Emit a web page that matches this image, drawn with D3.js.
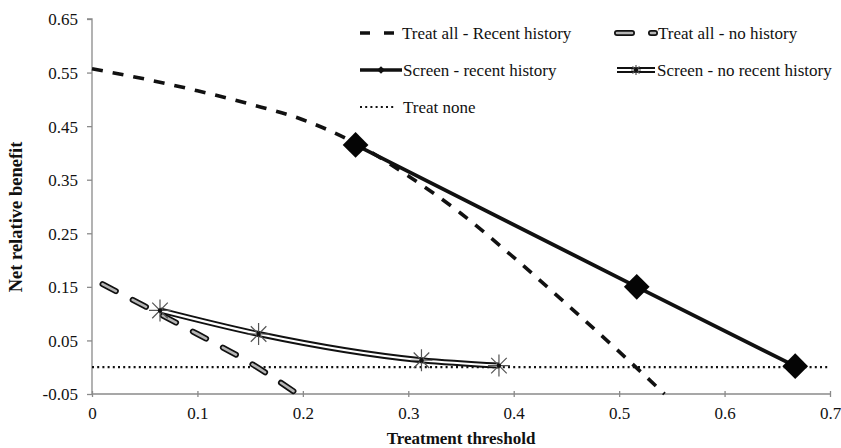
<!DOCTYPE html>
<html>
<head>
<meta charset="utf-8">
<script src="https://cdn.jsdelivr.net/npm/d3@7"></script>
<style>
  html, body { margin: 0; padding: 0; background: #fff; }
  svg { display: block; }
  text { font-family: "Liberation Serif", "Times New Roman", serif; fill: #111; }
</style>
</head>
<body>
<svg id="chart" width="841" height="448"></svg>
<script>
// ---- Data ----
const xTicks = [0, 0.1, 0.2, 0.3, 0.4, 0.5, 0.6, 0.7];
const yTicks = [-0.05, 0.05, 0.15, 0.25, 0.35, 0.45, 0.55, 0.65];

const treatAllRecentX = [0, 0.05, 0.1, 0.15, 0.2, 0.25, 0.3, 0.35, 0.4, 0.45, 0.5, 0.543];
const treatAllRecentY = [0.557, 0.538, 0.516, 0.491, 0.462, 0.418, 0.357, 0.287, 0.205, 0.118, 0.029, -0.05];

const treatAllNoHistX = [0.01, 0.05, 0.1, 0.15, 0.195];
const treatAllNoHistY = [0.155, 0.114, 0.062, 0.008, -0.05];

const screenRecentX = [0.25, 0.5167, 0.667];
const screenRecentY = [0.415, 0.15, 0.002];

const screenNoRecentX = [0.0645, 0.158, 0.3125, 0.386];
const screenNoRecentY = [0.106, 0.062, 0.013, 0.003];

const treatNoneX = [0, 0.7];
const treatNoneY = [0, 0];

const legendLabels = ["Treat all - Recent history", "Treat all - no history",
  "Screen - recent history", "Screen - no recent history", "Treat none"];

// ---- Layout ----
const svg = d3.select("#chart");
const x = d3.scaleLinear().domain([0, 0.7]).range([92, 830]);
const y = d3.scaleLinear().domain([-0.05, 0.65]).range([394, 19]);
const axisColor = "#8a8a8a";
const fmtY = d => d3.format(".2f")(d).replace("\u2212", "-");
const fmtX = d => d === 0 ? "0" : d3.format(".1f")(d);

const zip = (xs, ys) => xs.map((v, i) => [v, ys[i]]);
const line = d3.line().x(d => x(d[0])).y(d => y(d[1]));
const smooth = d3.line().x(d => x(d[0])).y(d => y(d[1])).curve(d3.curveMonotoneX);

// Axes
const yAxis = d3.axisLeft(y).tickValues(yTicks).tickSize(5).tickFormat(fmtY);
const gy = svg.append("g").attr("transform", `translate(${x(0)},0)`).call(yAxis);
gy.selectAll("path, line").attr("stroke", axisColor).attr("stroke-width", 1.3);
gy.selectAll("text").attr("font-size", 17).attr("x", -14).attr("dy", "0.35em");
gy.select(".domain").attr("d", `M-5,${y(0.65)}H0V${y(-0.05)}`);

const xAxis = d3.axisBottom(x).tickValues(xTicks).tickSize(4).tickFormat(fmtX);
const gx = svg.append("g").attr("transform", `translate(0,${y(-0.05)})`).call(xAxis);
gx.selectAll("path, line").attr("stroke", axisColor).attr("stroke-width", 1.3);
gx.selectAll("text").attr("font-size", 17).attr("y", 13).attr("dy", "0.71em");
gx.select(".domain").attr("d", `M${x(0)},0H${x(0.7)}`);
gx.selectAll(".tick line").attr("y1", -3).attr("y2", 3);
svg.selectAll("g").attr("font-family", null);
svg.selectAll(".tick text").style("font-family", '"Liberation Serif", serif').attr("fill", "#111");

// Axis titles
svg.append("text").attr("x", x(0.35)).attr("y", 444).attr("text-anchor", "middle")
  .attr("font-size", 17).attr("font-weight", "bold").text("Treatment threshold");
svg.append("text").attr("transform", `translate(22,217) rotate(-90)`)
  .attr("text-anchor", "middle").attr("font-size", 18.5).attr("font-weight", "bold")
  .text("Net relative benefit");

// ---- Series ----
// Treat none (dotted)
svg.append("path").datum(zip(treatNoneX, treatNoneY)).attr("d", line)
  .attr("fill", "none").attr("stroke", "#111").attr("stroke-width", 2.2)
  .attr("stroke-dasharray", "2,3.2");

// Treat all - Recent history (dashed)
svg.append("path").datum(zip(treatAllRecentX, treatAllRecentY)).attr("d", smooth)
  .attr("fill", "none").attr("stroke", "#111").attr("stroke-width", 3.6)
  .attr("stroke-dasharray", "11,10");

// Treat all - no history (outlined capsule dashes)
function capsuleDash(sel, d, path) {
  sel.append("path").datum(d).attr("d", path).attr("fill", "none")
    .attr("stroke", "#111").attr("stroke-width", 6).attr("stroke-linecap", "round")
    .attr("stroke-dasharray", "15,19");
  sel.append("path").datum(d).attr("d", path).attr("fill", "none")
    .attr("stroke", "#b5b5b5").attr("stroke-width", 2.6).attr("stroke-linecap", "round")
    .attr("stroke-dasharray", "15,19");
}
capsuleDash(svg.append("g"), zip(treatAllNoHistX, treatAllNoHistY), smooth);

// Screen - recent history (solid + diamonds)
svg.append("path").datum(zip(screenRecentX, screenRecentY)).attr("d", line)
  .attr("fill", "none").attr("stroke", "#111").attr("stroke-width", 3.8);
const diamond = d3.symbol().type(d3.symbolSquare).size(330);
svg.selectAll(".dia").data(zip(screenRecentX, screenRecentY)).join("path")
  .attr("class", "dia").attr("d", diamond)
  .attr("transform", d => `translate(${x(d[0])},${y(d[1])}) rotate(45)`)
  .attr("fill", "#050505");

// Screen - no recent history (double line + stars)
const snr = zip(screenNoRecentX, screenNoRecentY);
svg.append("path").datum(snr).attr("d", smooth).attr("fill", "none")
  .attr("stroke", "#111").attr("stroke-width", 6);
svg.append("path").datum(snr).attr("d", smooth).attr("fill", "none")
  .attr("stroke", "#fff").attr("stroke-width", 2.2);
function star(g, r) {
  const a = r * Math.SQRT1_2;
  g.append("path").attr("d", `M0,${-r}V${r}M${-a},${-a}L${a},${a}M${-a},${a}L${a},${-a}M${-r},0H${r}`)
    .attr("stroke", "#555").attr("stroke-width", 1.2).attr("fill", "none");
  g.append("circle").attr("r", 2.2).attr("fill", "#111");
}
snr.forEach(d => {
  const g = svg.append("g").attr("transform", `translate(${x(d[0])},${y(d[1])})`);
  star(g, 11);
});

// ---- Legend ----
const lg = svg.append("g").attr("font-size", 17);
const col1 = 360, col2 = 615, rows = [33, 70, 107];
// row 1 col 1
lg.append("path").attr("d", `M${col1},${rows[0]}H${col1 + 38}`).attr("stroke", "#111")
  .attr("stroke-width", 3.6).attr("stroke-dasharray", "10,14");
lg.append("text").attr("x", col1 + 42).attr("y", rows[0]).attr("dy", "0.35em").text(legendLabels[0]);
// row 1 col 2
capsuleDash(lg, [[col2 + 2, rows[0]], [col2 + 40, rows[0]]], d3.line());
lg.append("text").attr("x", col2 + 43).attr("y", rows[0]).attr("dy", "0.35em").text(legendLabels[1]);
// row 2 col 1
lg.append("path").attr("d", `M${col1},${rows[1]}H${col1 + 42}`).attr("stroke", "#111").attr("stroke-width", 3.6);
lg.append("path").attr("d", d3.symbol().type(d3.symbolSquare).size(30))
  .attr("transform", `translate(${col1 + 21},${rows[1]}) rotate(45)`).attr("fill", "#111");
lg.append("text").attr("x", col1 + 43).attr("y", rows[1]).attr("dy", "0.35em").text(legendLabels[2]);
// row 2 col 2
lg.append("path").attr("d", `M${col2 + 2},${rows[1]}H${col2 + 40}`).attr("stroke", "#111").attr("stroke-width", 6);
lg.append("path").attr("d", `M${col2 + 2},${rows[1]}H${col2 + 40}`).attr("stroke", "#fff").attr("stroke-width", 2.2);
star(lg.append("g").attr("transform", `translate(${col2 + 21},${rows[1]})`), 5);
lg.append("text").attr("x", col2 + 42).attr("y", rows[1]).attr("dy", "0.35em").text(legendLabels[3]);
// row 3 col 1
lg.append("path").attr("d", `M${col1},${rows[2]}H${col1 + 36}`).attr("stroke", "#111")
  .attr("stroke-width", 2.2).attr("stroke-dasharray", "2,3.2");
lg.append("text").attr("x", col1 + 43).attr("y", rows[2]).attr("dy", "0.35em").text(legendLabels[4]);
</script>
</body>
</html>
